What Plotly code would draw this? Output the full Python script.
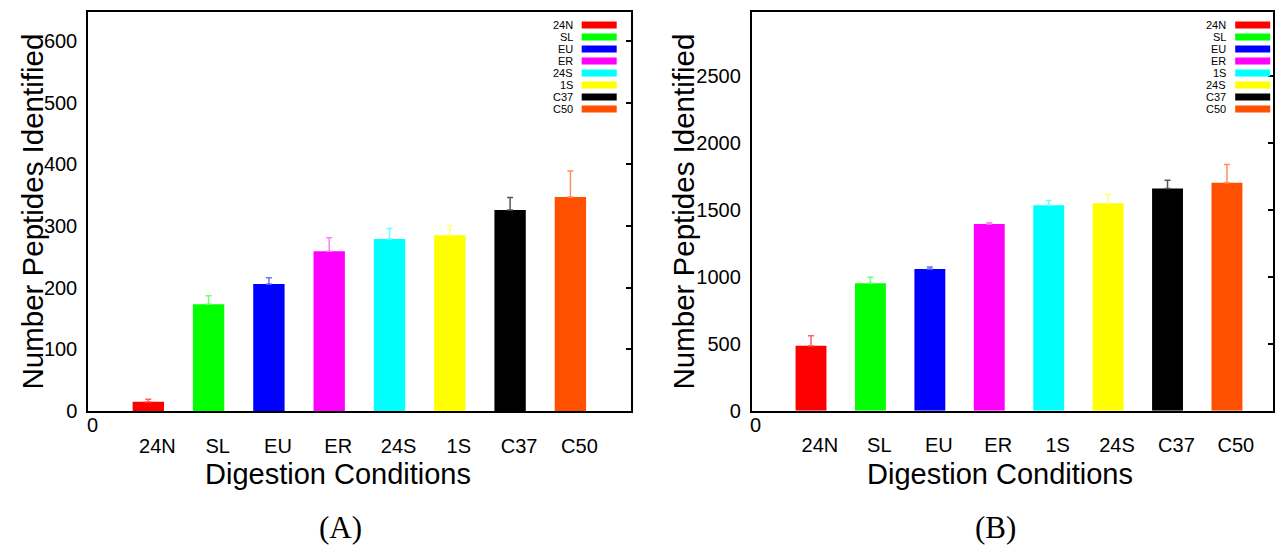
import plotly.graph_objects as go

# ---------------- data ----------------
cats_a = ["24N", "SL", "EU", "ER", "24S", "1S", "C37", "C50"]
vals_a = [15, 173, 206, 259, 279, 285, 326, 347]
errs_a = [4, 14, 10, 22, 17, 16, 20, 42]

cats_b = ["24N", "SL", "EU", "ER", "1S", "24S", "C37", "C50"]
vals_b = [486, 954, 1059, 1397, 1537, 1552, 1662, 1704]
errs_b = [74, 45, 15, 8, 35, 65, 62, 138]

colors = ["#ff0000", "#00ff00", "#0000ff", "#ff00ff",
          "#00ffff", "#ffff00", "#000000", "#ff5000"]
err_colors = ["#ff6060", "#70ff70", "#7070ff", "#ff80ff",
              "#70ffff", "#ffff70", "#555555", "#ff9060"]

x_title = "Digestion Conditions"
y_title = "Number Peptides Identified"
captions = ["(A)", "(B)"]

# ---------------- layout helpers ----------------
W, H = 1275, 546
FONT = "Liberation Sans, Arial, sans-serif"


def px(xp):
    return xp / W


def py(yp):
    return 1 - yp / H


# panel frames in page pixels: (left, right, top, bottom)
frames = [(88, 630.7, 12, 411), (751.6, 1272.7, 12, 410.7)]
xranges = [[0, 9.0], [0, 8.77]]
yranges = [[0, 647], [0, 2982]]
ydticks = [100, 500]
label_shift = 0.15
xtitle_cx = [338, 1000]
ytitle_x = [32, 683]
caption_cx = [340, 995]

fig = go.Figure()

panels = [(cats_a, vals_a, errs_a), (cats_b, vals_b, errs_b)]
for p, (cats, vals, errs) in enumerate(panels):
    xa = "x" if p == 0 else "x2"
    ya = "y" if p == 0 else "y2"
    pos = list(range(1, len(cats) + 1))
    for i, (c, v, e) in enumerate(zip(cats, vals, errs)):
        fig.add_trace(go.Bar(
            x=[pos[i]], y=[v], width=0.52,
            marker=dict(color=colors[i], line=dict(width=0)),
            error_y=dict(type="data", array=[e], arrayminus=[0], symmetric=False,
                         color=err_colors[i], thickness=1.5, width=3),
            xaxis=xa, yaxis=ya, showlegend=False, name=c,
        ))
    # invisible trace for right-side tick axis
    fig.add_trace(go.Scatter(x=[0], y=[0], mode="markers", marker=dict(opacity=0),
                             xaxis=xa, yaxis="y3" if p == 0 else "y4",
                             showlegend=False, hoverinfo="skip"))

axis_common = dict(showline=True, linecolor="black", linewidth=1.5,
                   showgrid=False, zeroline=False, automargin=False)

for p in range(2):
    l, r, t, b = frames[p]
    cats = panels[p][0]
    xkey = "xaxis" if p == 0 else "xaxis2"
    ykey = "yaxis" if p == 0 else "yaxis2"
    rkey = "yaxis3" if p == 0 else "yaxis4"
    yname = "y" if p == 0 else "y2"
    xname = "x" if p == 0 else "x2"
    fig.layout[xkey] = dict(
        domain=[px(l), px(r)], range=xranges[p], anchor=yname,
        tickvals=[i + 1 + label_shift for i in range(len(cats))],
        ticktext=cats, ticks="", mirror=True,
        tickfont=dict(family=FONT, size=20, color="black"),
        ticklabelstandoff=16, **axis_common)
    fig.layout[ykey] = dict(
        domain=[py(b), py(t)], range=yranges[p], anchor=xname,
        dtick=ydticks[p], tick0=0, ticks="", mirror=True,
        tickfont=dict(family=FONT, size=20, color="black"),
        ticklabelstandoff=5, **axis_common)
    fig.layout[rkey] = dict(
        overlaying=yname, anchor=xname, side="right", range=yranges[p],
        dtick=ydticks[p], tick0=0, ticks="inside", ticklen=5, tickwidth=1.5,
        tickcolor="black", showticklabels=False, showgrid=False,
        zeroline=False, showline=False, automargin=False)

annotations = []
shapes = []
for p in range(2):
    l, r, t, b = frames[p]
    cats = panels[p][0]
    # "0" label at origin of x axis
    annotations.append(dict(x=px(l + 4), y=py(b + 1), xref="paper", yref="paper",
                            text="0", showarrow=False, xanchor="center", yanchor="top",
                            font=dict(family=FONT, size=20, color="black")))
    # axis titles
    annotations.append(dict(x=px(xtitle_cx[p]), y=py(474), xref="paper", yref="paper",
                            text=x_title, showarrow=False, xanchor="center",
                            yanchor="middle",
                            font=dict(family=FONT, size=29, color="black")))
    annotations.append(dict(x=px(ytitle_x[p]), y=py(211.5), xref="paper",
                            yref="paper", text=y_title, textangle=-90,
                            showarrow=False, xanchor="center", yanchor="middle",
                            font=dict(family=FONT, size=29.5, color="black")))
    # caption
    annotations.append(dict(x=px(caption_cx[p]), y=py(527),
                            xref="paper", yref="paper", text=captions[p],
                            showarrow=False, xanchor="center", yanchor="middle",
                            font=dict(family="Liberation Serif, serif", size=31,
                                      color="black")))
    # legend (text then swatch, inside top right)
    sw_right = r - 14 if p == 0 else r - 2.5
    sw_left = sw_right - 35
    text_right = sw_left - 7
    for i, c in enumerate(cats):
        yc = 25 + 12 * i
        annotations.append(dict(x=px(text_right), y=py(yc), xref="paper",
                                yref="paper", text=c, showarrow=False,
                                xanchor="right", yanchor="middle",
                                font=dict(family=FONT, size=11, color="black")))
        shapes.append(dict(type="rect", xref="paper", yref="paper",
                           x0=px(sw_left), x1=px(sw_right),
                           y0=py(yc + 3.5), y1=py(yc - 3.5),
                           fillcolor=colors[i], line=dict(width=0)))

fig.update_layout(
    template="none",
    width=W, height=H, margin=dict(l=0, r=0, t=0, b=0, pad=0, autoexpand=False),
    paper_bgcolor="white", plot_bgcolor="white",
    barmode="overlay", annotations=annotations, shapes=shapes,
    font=dict(family=FONT, color="black"),
)

fig.write_html(
    "out.html",
    config={"displayModeBar": False},
    post_script="document.body.style.margin='0';"
                "document.body.style.padding='0';"
                "document.body.style.overflow='hidden';",
)
